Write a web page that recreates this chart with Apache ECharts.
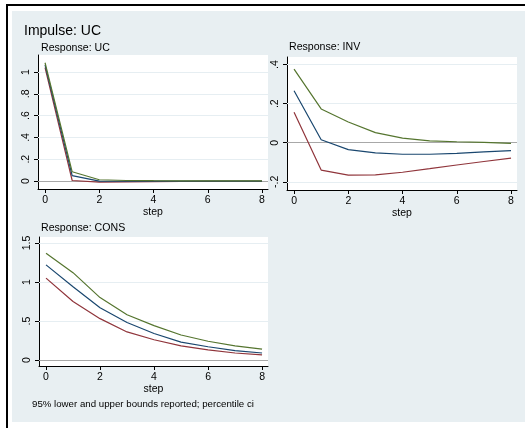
<!DOCTYPE html>
<html><head><meta charset="utf-8">
<script src="https://cdn.jsdelivr.net/npm/echarts@6/dist/echarts.min.js"></script>
<style>html,body{margin:0;padding:0;background:#fff}#c{width:525px;height:428px}</style>
</head><body><div id="c"></div>
<script>
const steps = [0,1,2,3,4,5,6,7,8];
// Response: UC
const ucLower = [1.04, 0.005, -0.01, -0.008, -0.006, -0.004, -0.003, -0.002, -0.002];
const ucIrf   = [1.065, 0.05, 0.0, -0.002, -0.001, -0.001, 0.0, 0.0, 0.0];
const ucUpper = [1.085, 0.085, 0.012, 0.005, 0.003, 0.002, 0.001, 0.001, 0.001];
// Response: INV
const invLower = [0.156, -0.140, -0.166, -0.165, -0.151, -0.133, -0.114, -0.096, -0.079];
const invIrf   = [0.266, 0.015, -0.035, -0.052, -0.059, -0.059, -0.054, -0.047, -0.040];
const invUpper = [0.377, 0.173, 0.106, 0.052, 0.024, 0.010, 0.005, 0.002, -0.003];
// Response: CONS
const consLower = [1.05, 0.75, 0.53, 0.36, 0.26, 0.18, 0.13, 0.09, 0.065];
const consIrf   = [1.22, 0.94, 0.67, 0.48, 0.34, 0.23, 0.17, 0.12, 0.09];
const consUpper = [1.37, 1.12, 0.80, 0.58, 0.44, 0.32, 0.24, 0.18, 0.14];

const xTicks = [0,2,4,6,8];
const xTickLabels = ['0','2','4','6','8'];
const ucTicks = [0,0.2,0.4,0.6,0.8,1];
const ucTickLabels = ['0','.2','.4','.6','.8','1'];
const invTicks = [-0.2,0,0.2,0.4];
const invTickLabels = ['-.2','0','.2','.4'];
const consTicks = [0,0.5,1,1.5];
const consTickLabels = ['0','.5','1','1.5'];

const mainTitle = 'Impulse: UC';
const panelTitles = ['Response: UC','Response: INV','Response: CONS'];
const xName = 'step';
const note = '95% lower and upper bounds reported; percentile ci';

const NAVY = '#1a476f', MAROON = '#90353b', GREEN = '#55752f';
const FONT = '"Liberation Sans", Arial, sans-serif';

const grids = [
  {left:38, top:55, width:230, height:134},
  {left:287, top:57, width:230, height:133},
  {left:39, top:237, width:229, height:129}
];
const yRanges = [[-0.073,1.156],[-0.242,0.439],[-0.077,1.577]];
const yTickSets = [[ucTicks,ucTickLabels],[invTicks,invTickLabels],[consTicks,consTickLabels]];
const dataSets = [[ucLower,ucIrf,ucUpper],[invLower,invIrf,invUpper],[consLower,consIrf,consUpper]];

const pair = arr => steps.map((s,i)=>[s,arr[i]]);

const xAxes = [], yAxes = [], series = [];
grids.forEach((g,k)=>{
  xAxes.push({
    type:'value', gridIndex:k, min:-0.26, max:8.22,
    name:xName, nameLocation:'middle', nameGap:17,
    nameTextStyle:{fontFamily:FONT, fontSize:10.5, color:'#000'},
    axisLine:{show:true, onZero:false, lineStyle:{color:'#000', width:1}},
    axisTick:{show:true, length:4, customValues:xTicks, lineStyle:{color:'#000'}},
    axisLabel:{show:true, margin:6, customValues:xTicks, fontFamily:FONT, fontSize:10.5, color:'#000',
      formatter:v=>{const i=xTicks.indexOf(v);return i>=0?xTickLabels[i]:'';}},
    splitLine:{show:false}
  });
  const [tv,tl] = yTickSets[k];
  yAxes.push({
    type:'value', gridIndex:k, min:yRanges[k][0], max:yRanges[k][1],
    axisLine:{show:true, onZero:false, lineStyle:{color:'#000', width:1}},
    axisTick:{show:true, length:4, customValues:tv, lineStyle:{color:'#000'}},
    axisLabel:{show:true, margin:6, rotate:90, customValues:tv, fontFamily:FONT, fontSize:10.5, color:'#000',
      formatter:v=>{let i=tv.findIndex(t=>Math.abs(t-v)<1e-9);return i>=0?tl[i]:'';}},
    splitLine:{show:false}
  });
  // helper series for grid lines and zero line
  series.push({
    type:'line', xAxisIndex:k, yAxisIndex:k, data:[], z:1, silent:true,
    symbol:'none', tooltip:{show:false},
    markLine:{silent:true, z:1, symbol:'none', label:{show:false}, animation:false,
      data: tv.filter(t=>t!==0).map(t=>({yAxis:t, lineStyle:{color:'#e6eef2', width:1, type:'solid'}}))
        .concat([{yAxis:0, lineStyle:{color:'#a8a8a8', width:1, type:'solid'}}])}
  });
  const cols = [MAROON, NAVY, GREEN];
  dataSets[k].forEach((d,j)=>{
    series.push({type:'line', xAxisIndex:k, yAxisIndex:k, data:pair(d), z:6,
      symbol:'none', showSymbol:false, animation:false,
      lineStyle:{color:cols[j], width:1.2}});
  });
});

const titleStyle = {fontFamily:FONT, fontWeight:'normal', color:'#000'};
const chart = echarts.init(document.getElementById('c'), null, {renderer:'canvas'});
chart.setOption({
  animation:false,
  backgroundColor:'#ffffff',
  graphic:[
    {type:'rect', shape:{x:12,y:11,width:513,height:411}, style:{fill:'#e8eff2'}, z:-10, silent:true},
    {type:'rect', shape:{x:6,y:4,width:519,height:2}, style:{fill:'#000'}, z:-9, silent:true},
    {type:'rect', shape:{x:6,y:4,width:2,height:424}, style:{fill:'#000'}, z:-9, silent:true}
  ],
  title:[
    {text:mainTitle, left:24, top:24, padding:0, textStyle:Object.assign({fontSize:14},titleStyle)},
    {text:panelTitles[0], left:41, top:43, padding:0, textStyle:Object.assign({fontSize:10.6},titleStyle)},
    {text:panelTitles[1], left:289, top:42, padding:0, textStyle:Object.assign({fontSize:10.6},titleStyle)},
    {text:panelTitles[2], left:41, top:223, padding:0, textStyle:Object.assign({fontSize:10.6},titleStyle)},
    {text:note, left:32, top:399, padding:0, textStyle:Object.assign({fontSize:9.7},titleStyle)}
  ],
  grid:grids.map(g=>Object.assign({show:true, backgroundColor:'#fff', borderWidth:0, containLabel:false},g)),
  xAxis:xAxes,
  yAxis:yAxes,
  series:series
});
</script></body></html>
